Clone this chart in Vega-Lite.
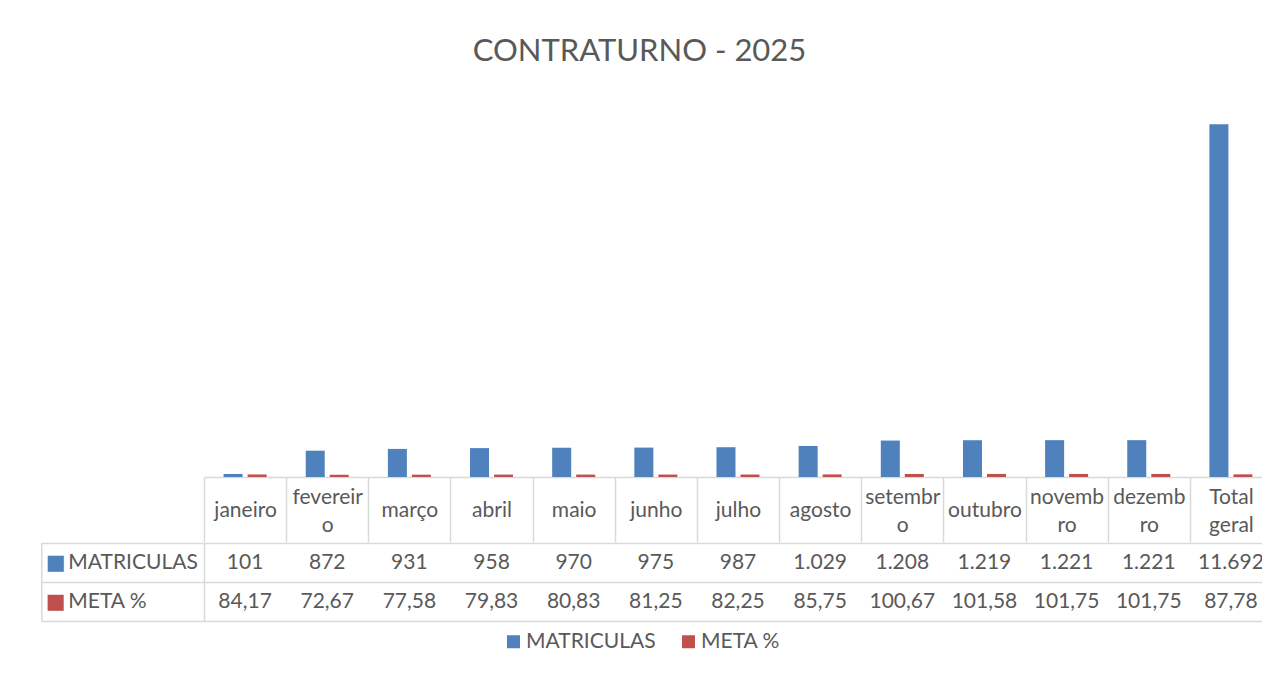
{
  "$schema": "https://vega.github.io/schema/vega-lite/v6.json",
  "padding": {"left": 40, "top": 36, "right": 0, "bottom": 0},
  "background": "white",
  "title": {"text": "CONTRATURNO - 2025", "font": "Lato", "fontSize": 31, "fontWeight": "normal", "color": "#595959", "anchor": "middle", "frame": "bounds", "offset": 47, "dx": -17},
  "config": {
    "view": {"stroke": null},
    "font": "Lato",
    "locale": {"number": {"decimal": ",", "thousands": ".", "grouping": [3], "currency": ["R$", ""]}}
  },
  "datasets": {
    "d": [
      {"mes": "janeiro", "serie": "MATRICULAS", "valor": 101},
      {"mes": "fevereiro", "serie": "MATRICULAS", "valor": 872},
      {"mes": "março", "serie": "MATRICULAS", "valor": 931},
      {"mes": "abril", "serie": "MATRICULAS", "valor": 958},
      {"mes": "maio", "serie": "MATRICULAS", "valor": 970},
      {"mes": "junho", "serie": "MATRICULAS", "valor": 975},
      {"mes": "julho", "serie": "MATRICULAS", "valor": 987},
      {"mes": "agosto", "serie": "MATRICULAS", "valor": 1029},
      {"mes": "setembro", "serie": "MATRICULAS", "valor": 1208},
      {"mes": "outubro", "serie": "MATRICULAS", "valor": 1219},
      {"mes": "novembro", "serie": "MATRICULAS", "valor": 1221},
      {"mes": "dezembro", "serie": "MATRICULAS", "valor": 1221},
      {"mes": "Total geral", "serie": "MATRICULAS", "valor": 11692},
      {"mes": "janeiro", "serie": "META %", "valor": 84.17},
      {"mes": "fevereiro", "serie": "META %", "valor": 72.67},
      {"mes": "março", "serie": "META %", "valor": 77.58},
      {"mes": "abril", "serie": "META %", "valor": 79.83},
      {"mes": "maio", "serie": "META %", "valor": 80.83},
      {"mes": "junho", "serie": "META %", "valor": 81.25},
      {"mes": "julho", "serie": "META %", "valor": 82.25},
      {"mes": "agosto", "serie": "META %", "valor": 85.75},
      {"mes": "setembro", "serie": "META %", "valor": 100.67},
      {"mes": "outubro", "serie": "META %", "valor": 101.58},
      {"mes": "novembro", "serie": "META %", "valor": 101.75},
      {"mes": "dezembro", "serie": "META %", "valor": 101.75},
      {"mes": "Total geral", "serie": "META %", "valor": 87.78}
    ]
  },
  "resolve": {
    "scale": {"x": "independent", "y": "independent", "color": "independent"},
    "legend": {"color": "independent"}
  },
  "spacing": -12,
  "vconcat": [
    {
      "width": 1068,
      "height": 362,
      "data": {"name": "d"},
      "mark": {"type": "bar"},
      "encoding": {
        "x": {
          "field": "mes", "type": "nominal",
          "sort": ["janeiro", "fevereiro", "março", "abril", "maio", "junho", "julho", "agosto", "setembro", "outubro", "novembro", "dezembro", "Total geral"],
          "scale": {"paddingInner": 0, "paddingOuter": 0},
          "axis": {
            "title": null, "orient": "bottom", "grid": false,
            "tickBand": "extent", "tickSize": 65, "tickColor": "#d9d9d9", "tickWidth": 1.5,
            "domainColor": "#d9d9d9", "domainWidth": 1.5,
            "labelAngle": 0, "labelBaseline": "middle", "labelAlign": "center",
            "labelPadding": {"condition": {"test": "indexof(['fevereiro', 'setembro', 'novembro', 'dezembro', 'Total geral'], datum.value) >= 0", "value": -45}, "value": -32},
            "labelFont": "Lato", "labelFontSize": 21, "labelColor": "#595959", "labelLineHeight": 28.5,
            "labelOverlap": false, "labelLimit": 0,
            "labelExpr": "datum.value == 'fevereiro' ? ['fevereir', 'o'] : datum.value == 'setembro' ? ['setembr', 'o'] : datum.value == 'novembro' ? ['novemb', 'ro'] : datum.value == 'dezembro' ? ['dezemb', 'ro'] : datum.value == 'Total geral' ? ['Total', 'geral'] : datum.value"
          }
        },
        "xOffset": {"field": "serie", "type": "nominal", "sort": ["MATRICULAS", "META %"], "scale": {"paddingInner": 0.208, "paddingOuter": 0.815}},
        "y": {"field": "valor", "type": "quantitative", "scale": {"domain": [0, 12000], "nice": false}, "axis": null},
        "color": {"field": "serie", "type": "nominal", "scale": {"domain": ["MATRICULAS", "META %"], "range": ["#4f81bd", "#c0504d"]}, "legend": null}
      }
    },
    {
      "width": 1068,
      "height": 78,
      "data": {"name": "d"},
      "resolve": {"axis": {"y": "independent"}},
      "layer": [
        {
          "mark": {"type": "text", "font": "Lato", "fontSize": 21, "color": "#595959", "baseline": "middle", "align": "center"},
          "encoding": {
            "x": {
              "field": "mes", "type": "nominal",
              "sort": ["janeiro", "fevereiro", "março", "abril", "maio", "junho", "julho", "agosto", "setembro", "outubro", "novembro", "dezembro", "Total geral"],
              "scale": {"paddingInner": 0, "paddingOuter": 0},
              "axis": {"title": null, "orient": "bottom", "labels": false, "ticks": false, "domain": false, "grid": true, "tickBand": "extent", "gridColor": "#d9d9d9", "gridWidth": 1.5}
            },
            "y": {
              "field": "serie", "type": "nominal", "sort": ["MATRICULAS", "META %"],
              "scale": {"paddingInner": 0, "paddingOuter": 0},
              "axis": {
                "title": null, "orient": "left", "tickBand": "extent", "tickSize": 163, "tickColor": "#d9d9d9", "tickWidth": 1.5,
                "domainColor": "#d9d9d9", "domainWidth": 1.5, "grid": true, "gridColor": "#d9d9d9", "gridWidth": 1.5,
                "labelAlign": "left", "labelBaseline": "middle", "labelPadding": -26.8,
                "labelFont": "Lato", "labelFontSize": 21, "labelColor": "#595959", "labelLimit": 0
              }
            },
            "text": {"field": "valor", "type": "quantitative", "format": ","}
          }
        },
        {
          "mark": {"type": "square", "opacity": 0, "size": 169},
          "encoding": {
            "x": {
              "field": "mes", "type": "nominal",
              "sort": ["janeiro", "fevereiro", "março", "abril", "maio", "junho", "julho", "agosto", "setembro", "outubro", "novembro", "dezembro", "Total geral"],
              "axis": null
            },
            "y": {
              "field": "serie", "type": "nominal", "sort": ["MATRICULAS", "META %"],
              "axis": {
                "title": null, "orient": "left", "offset": 162.7, "ticks": false, "tickSize": 0, "grid": false,
                "domainColor": "#d9d9d9", "domainWidth": 1.5,
                "labelExpr": "'■'", "labelAlign": "left", "labelBaseline": "middle", "labelPadding": -4,
                "labelFont": "DejaVu Sans", "labelFontSize": 21,
                "labelColor": {"condition": {"test": "datum.value == 'MATRICULAS'", "value": "#4f81bd"}, "value": "#c0504d"}
              }
            },
            "color": {
              "field": "serie", "type": "nominal",
              "scale": {"domain": ["MATRICULAS", "META %"], "range": ["#4f81bd", "#c0504d"]},
              "legend": {
                "orient": "none", "legendX": 299, "legendY": 88, "direction": "horizontal", "title": null,
                "symbolType": "square", "symbolSize": 169, "symbolStrokeWidth": 0, "symbolOpacity": 1,
                "labelFont": "Lato", "labelFontSize": 21, "labelColor": "#595959", "labelOffset": 2,
                "columnPadding": 22, "padding": 0
              }
            }
          }
        }
      ]
    }
  ]
}
